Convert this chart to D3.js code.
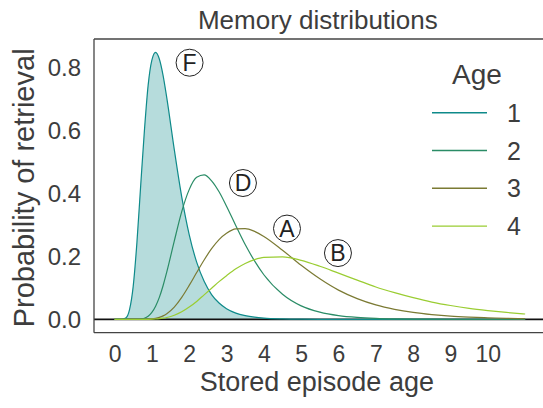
<!DOCTYPE html>
<html>
<head>
<meta charset="utf-8">
<script src="https://cdn.jsdelivr.net/npm/d3@7"></script>
<style>
  html, body { margin: 0; padding: 0; background: #fff; }
  svg { display: block; }
  text { font-family: "Liberation Sans", Arial, sans-serif; fill: #3d3d3d; }
</style>
</head>
<body>
<svg id="chart" width="543" height="408"></svg>
<script>
// ---- data ----
const xs = [0,0.2,0.3,0.4,0.5,0.6,0.7,0.8,0.9,1.0,1.1,1.2,1.3,1.4,1.6,1.8,2.0,2.2,2.4,2.6,2.8,3.0,3.25,3.5,3.75,4.0,4.5,5,5.5,6,6.5,7,7.5,8,8.5,9,9.5,10,10.5,11];
const age1 = [0,0,0.004,0.03,0.105,0.245,0.425,0.600,0.745,0.825,0.850,0.829,0.777,0.705,0.541,0.390,0.270,0.182,0.121,0.079,0.052,0.034,0.020,0.012,0.007,0.004,0.0015,0.0005,0.0002,0.0001,0,0,0,0,0,0,0,0,0,0];
const age2 = [0,0,0,0,0,0.0002,0.001,0.0037,0.010,0.022,0.042,0.070,0.107,0.151,0.249,0.343,0.413,0.452,0.460,0.441,0.406,0.360,0.298,0.238,0.186,0.142,0.080,0.043,0.023,0.012,0.0063,0.0033,0.0017,0.0009,0.0005,0.0002,0.0001,0,0,0];
const age3 = [0,0,0,0,0,0,0,0.0002,0.0006,0.0015,0.0033,0.0064,0.011,0.018,0.039,0.070,0.108,0.149,0.189,0.225,0.254,0.274,0.288,0.289,0.280,0.264,0.220,0.172,0.129,0.093,0.066,0.046,0.032,0.022,0.015,0.010,0.007,0.005,0.0033,0.0023];
const age4 = [0,0,0,0,0,0,0,0.0001,0.0002,0.0005,0.0011,0.0021,0.0037,0.006,0.013,0.024,0.039,0.057,0.078,0.099,0.120,0.139,0.161,0.178,0.190,0.197,0.199,0.188,0.169,0.147,0.125,0.103,0.085,0.069,0.055,0.044,0.035,0.028,0.022,0.017];
const seriesNames = ["1", "2", "3", "4"];
const seriesValues = [age1, age2, age3, age4];
const seriesColors = ["#0e8a8a", "#2a8c66", "#7b7a33", "#9acd32"];
const xTicks = [0,1,2,3,4,5,6,7,8,9,10];
const yTicks = [0, 0.2, 0.4, 0.6, 0.8];
const annotations = [
  {label: "F", x: 2.01, y: 0.817},
  {label: "D", x: 3.44, y: 0.434},
  {label: "A", x: 4.62, y: 0.289},
  {label: "B", x: 5.985, y: 0.211}
];

// ---- layout ----
const L = 94, T = 39, R = 545.7, B = 332.7;
const svg = d3.select("#chart");
const x = d3.scaleLinear().domain([-0.55, 11.55]).range([L, R]);
const y = d3.scaleLinear().domain([-0.0425, 0.8925]).range([B, T]);

// fill under first curve
const area = d3.area()
  .x((d, i) => x(xs[i]))
  .y0(y(0))
  .y1(d => y(d))
  .curve(d3.curveMonotoneX);
svg.append("path")
  .datum(age1)
  .attr("d", area)
  .attr("fill", seriesColors[0])
  .attr("fill-opacity", 0.3)
  .attr("stroke", "none");

// zero line
svg.append("line")
  .attr("x1", L).attr("x2", R)
  .attr("y1", y(0)).attr("y2", y(0))
  .attr("stroke", "#111").attr("stroke-width", 1.6);

// curves
const line = d3.line()
  .x((d, i) => x(xs[i]))
  .y(d => y(d))
  .curve(d3.curveMonotoneX);
seriesValues.forEach((vals, k) => {
  svg.append("path")
    .datum(vals)
    .attr("d", line)
    .attr("fill", "none")
    .attr("stroke", seriesColors[k])
    .attr("stroke-width", 1.2);
});

// spines
const spine = svg.append("g").attr("stroke", "#444").attr("stroke-width", 1.3);
spine.append("line").attr("x1", L).attr("x2", L).attr("y1", T).attr("y2", B);
spine.append("line").attr("x1", L).attr("x2", R).attr("y1", T).attr("y2", T);
spine.append("line").attr("x1", L).attr("x2", R).attr("y1", B).attr("y2", B);
spine.append("line").attr("x1", R).attr("x2", R).attr("y1", T).attr("y2", B);

// axes
const xAxis = svg.append("g")
  .attr("transform", `translate(0,${B})`)
  .call(d3.axisBottom(x).tickValues(xTicks).tickSize(0).tickPadding(13).tickFormat(d3.format("d")));
xAxis.select(".domain").remove();
xAxis.selectAll("text").style("font-size", "23px").style("font-family", "Liberation Sans, Arial, sans-serif").attr("fill", "#3d3d3d");

const yAxis = svg.append("g")
  .attr("transform", `translate(${L},0)`)
  .call(d3.axisLeft(y).tickValues(yTicks).tickSize(0).tickPadding(13).tickFormat(d3.format(".1f")));
yAxis.select(".domain").remove();
yAxis.selectAll("text").style("font-size", "24px").style("font-family", "Liberation Sans, Arial, sans-serif").attr("fill", "#3d3d3d");

// title and labels
svg.append("text")
  .attr("x", (L + R) / 2 - 2).attr("y", 29)
  .attr("text-anchor", "middle")
  .style("font-size", "26px")
  .text("Memory distributions");
svg.append("text")
  .attr("x", (L + R) / 2 - 3).attr("y", 391)
  .attr("text-anchor", "middle")
  .style("font-size", "27px")
  .text("Stored episode age");
svg.append("text")
  .attr("transform", `translate(34,${(T + B) / 2 + 2}) rotate(-90)`)
  .attr("text-anchor", "middle")
  .style("font-size", "29px")
  .text("Probability of retrieval");

// circled annotations
annotations.forEach(a => {
  const g = svg.append("g").attr("transform", `translate(${x(a.x)},${y(a.y)})`);
  g.append("circle").attr("r", 13.5).attr("fill", "none").attr("stroke", "#222").attr("stroke-width", 1);
  g.append("text")
    .attr("text-anchor", "middle")
    .attr("y", 8.2)
    .style("font-size", "23px")
    .style("fill", "#222")
    .text(a.label);
});

// legend
const lg = svg.append("g");
lg.append("text")
  .attr("x", 477).attr("y", 84)
  .attr("text-anchor", "middle")
  .style("font-size", "28px")
  .text("Age");
seriesNames.forEach((n, k) => {
  const yy = 112.7 + k * 37.8;
  lg.append("line")
    .attr("x1", 432).attr("x2", 487)
    .attr("y1", yy).attr("y2", yy)
    .attr("stroke", seriesColors[k]).attr("stroke-width", 1.4);
  lg.append("text")
    .attr("x", 507).attr("y", yy + 9)
    .style("font-size", "25px")
    .text(n);
});
</script>
</body>
</html>
